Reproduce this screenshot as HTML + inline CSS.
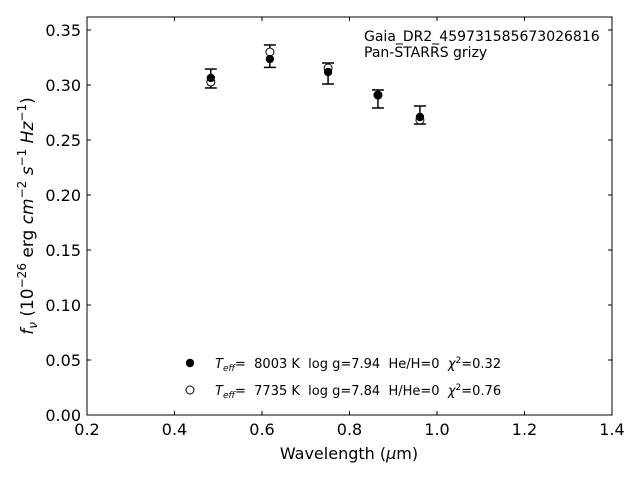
<!DOCTYPE html>
<html><head><meta charset="utf-8"><style>
body{margin:0;background:#fff;}
svg{font-family:"DejaVu Sans","Liberation Sans",sans-serif;}
text{white-space:pre;}
</style></head><body>
<svg id="chart" width="640" height="480" viewBox="0 0 640 480"></svg>
<script>
const wavelengths=[0.483,0.618,0.751,0.865,0.961];
const fluxObs=[0.3064,0.3236,0.3118,0.2909,0.2709];
const errLow=[0.2973,0.3160,0.3009,0.2791,0.2645];
const errHigh=[0.3145,0.3364,0.3200,0.2955,0.2809];
const fluxModel2=[0.3027,0.3300,0.3155,0.2909,0.2682];
const xTicks=[0.2,0.4,0.6,0.8,1.0,1.2,1.4];
const xTickLabels=["0.2","0.4","0.6","0.8","1.0","1.2","1.4"];
const yTicks=[0,0.05,0.10,0.15,0.20,0.25,0.30,0.35];
const yTickLabels=["0.00","0.05","0.10","0.15","0.20","0.25","0.30","0.35"];

const L=87,R=612,T=17,B=415,xmin=0.2,xmax=1.4,ymin=0,ymax=(B-T)/1100;
const xs=v=>L+(v-xmin)/(xmax-xmin)*(R-L);
const ys=v=>B-(v-ymin)/(ymax-ymin)*(B-T);
const svg=document.getElementById('chart');
const NS='http://www.w3.org/2000/svg';
function mk(tag,attrs,parent){const e=document.createElementNS(NS,tag);for(const k in attrs)e.setAttribute(k,attrs[k]);(parent||svg).appendChild(e);return e;}

const frame=mk('rect',{x:L,y:T,width:R-L,height:B-T,fill:'none',stroke:'#000','stroke-width':1});



xTicks.forEach((v,i)=>{
  const x=xs(v);
  const t=mk('line',{x1:x,x2:x,y1:B,y2:B-4,stroke:'#000'});
  
  
  const t2=mk('line',{x1:x,x2:x,y1:T,y2:T+4,stroke:'#000'});
  
  
  const lb=mk('text',{x:x,y:B+20,'text-anchor':'middle','font-size':16});
  lb.textContent=xTickLabels[i];
  
  
});
yTicks.forEach((v,i)=>{
  const y=ys(v);
  const t=mk('line',{x1:L,x2:L+4,y1:y,y2:y,stroke:'#000'});
  
  
  const t2=mk('line',{x1:R,x2:R-4,y1:y,y2:y,stroke:'#000'});
  
  
  const lb=mk('text',{x:L-6,y:y+6,'text-anchor':'end','font-size':16});
  lb.textContent=yTickLabels[i];
  
  
});

wavelengths.forEach((w,i)=>{
  const x=xs(w);
  const g=mk('g',{});
  
  
  mk('line',{x1:x,x2:x,y1:ys(errLow[i]),y2:ys(errHigh[i]),stroke:'#000','stroke-width':1.5},g);
  mk('line',{x1:x-6,x2:x+6,y1:ys(errLow[i]),y2:ys(errLow[i]),stroke:'#000','stroke-width':1.5},g);
  mk('line',{x1:x-6,x2:x+6,y1:ys(errHigh[i]),y2:ys(errHigh[i]),stroke:'#000','stroke-width':1.5},g);
  const o=mk('circle',{cx:x,cy:ys(fluxModel2[i]),r:4,fill:'#fff',stroke:'#000','stroke-width':1});
  
  
  const f=mk('circle',{cx:x,cy:ys(fluxObs[i]),r:4.2,fill:'#000'});
  
  
});
</script>
<svg style="position:absolute;left:0;top:0" width="640" height="480">
<text x="364" y="41" font-size="14" font-family="DejaVu Sans,Liberation Sans,sans-serif">Gaia_DR2_459731585673026816</text>
<text x="364" y="57" font-size="14" font-family="DejaVu Sans,Liberation Sans,sans-serif">Pan-STARRS grizy</text>
<g font-size="13" font-family="DejaVu Sans,Liberation Sans,sans-serif">
<circle cx="190" cy="363" r="4.2" fill="#000"/>
<text x="215" y="368"><tspan font-style="italic">T</tspan><tspan font-style="italic" font-size="9" dy="3">eff</tspan><tspan dy="-3">=  8003 K  log g=7.94  He/H=0  </tspan><tspan font-style="italic">χ</tspan><tspan font-size="9" dy="-5">2</tspan><tspan dy="5">=0.32</tspan></text>
<circle cx="190" cy="390" r="4" fill="#fff" stroke="#000"/>
<text x="215" y="395"><tspan font-style="italic">T</tspan><tspan font-style="italic" font-size="9" dy="3">eff</tspan><tspan dy="-3">=  7735 K  log g=7.84  H/He=0  </tspan><tspan font-style="italic">χ</tspan><tspan font-size="9" dy="-5">2</tspan><tspan dy="5">=0.76</tspan></text>
</g>
<text x="349" y="459" text-anchor="middle" font-size="16" font-family="DejaVu Sans,Liberation Sans,sans-serif">Wavelength (<tspan font-style="italic">μ</tspan>m)</text>
<text transform="translate(33,216) rotate(-90)" text-anchor="middle" font-size="17" font-family="DejaVu Sans,Liberation Sans,sans-serif"><tspan font-style="italic">f</tspan><tspan font-style="italic" font-size="12" dy="4">ν</tspan><tspan dy="-4"> (10</tspan><tspan font-size="12" dy="-7">−26</tspan><tspan dy="7"> erg </tspan><tspan font-style="italic">cm</tspan><tspan font-size="12" dy="-7">−2</tspan><tspan dy="7"> </tspan><tspan font-style="italic">s</tspan><tspan font-size="12" dy="-7">−1</tspan><tspan dy="7"> </tspan><tspan font-style="italic">Hz</tspan><tspan font-size="12" dy="-7">−1</tspan><tspan dy="7">)</tspan></text>
</svg>
</body></html>
